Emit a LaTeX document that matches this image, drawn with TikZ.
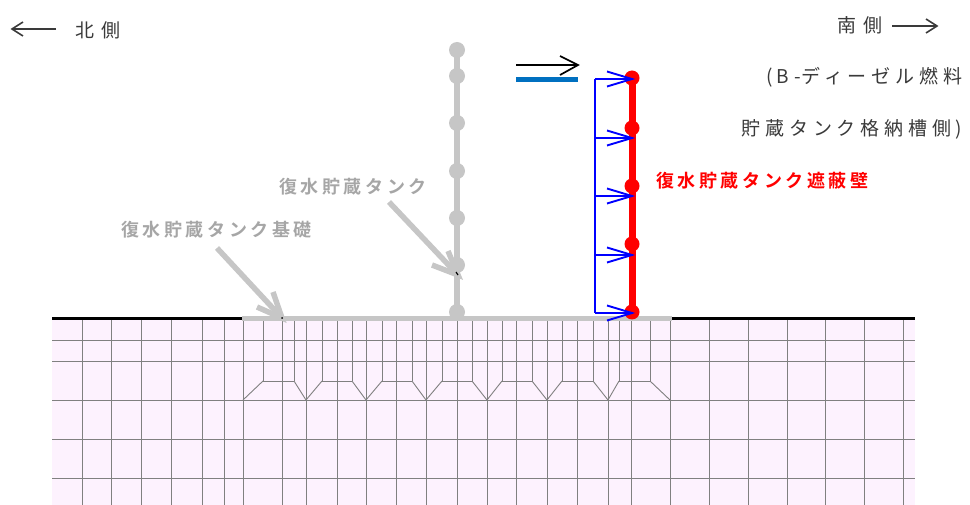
\documentclass[tikz,border=0pt]{standalone}
\usepackage{fontspec}
\newfontfamily\jpa[LetterSpace=26]{Noto Sans CJK JP}
\newfontfamily\jpg[LetterSpace=20,BoldFont={Noto Sans CJK JP Bold}]{Noto Sans CJK JP}
\definecolor{soil}{HTML}{FDF2FE}
\definecolor{mesh}{HTML}{808080}
\definecolor{pale}{HTML}{C6C6C6}
\definecolor{labelgray}{HTML}{A6A6A6}
\definecolor{wind}{HTML}{0070C0}
\definecolor{ink}{HTML}{3A3A3A}
\tikzset{
  meshline/.style={draw=mesh,line width=0.9pt},
  groundline/.style={draw=black,line width=3pt},
  baseline/.style={draw=pale,line width=5pt},
  graywall/.style={draw=pale,line width=6pt},
  redwall/.style={draw=red,line width=7pt},
  grayjoint/.style={circle,fill=pale,inner sep=0pt,minimum size=16pt},
  redjoint/.style={circle,fill=red,inner sep=0pt,minimum size=15pt},
  blueline/.style={draw=blue,line width=1.9pt},
  grayarrow/.style={draw=pale,line width=5.5pt},
  blacktext/.style={inner sep=0pt,text=ink,font=\fontsize{19}{19}\selectfont\jpa},
  graytext/.style={inner sep=0pt,text=labelgray,font=\fontsize{18}{18}\selectfont\jpg\bfseries},
  redtext/.style={inner sep=0pt,text=red,font=\fontsize{18}{18}\selectfont\jpg\bfseries},
  dirarrow/.style={draw=ink,line width=1.6pt},
}
\begin{document}
\begin{tikzpicture}[x=1pt,y=-1pt]
\useasboundingbox (0,0) rectangle (970,505);
\fill[soil] (52,319) rectangle (915,505);
% horizontal mesh
\foreach \y in {340,361,400,439,478}
  \draw[meshline] (52,\y) -- (915,\y);
% full verticals
\foreach \x in {82,111,141,171,202,224,243,282,306,337,366,396,426,457,487,516,547,577,608,631,670,709,748,787,825,864,903}
  \draw[meshline] (\x,319) -- (\x,505);
% upper verticals
\foreach \x in {263,294,322,352,382,412,442,472,502,532,562,593,619,650}
  \draw[meshline] (\x,319) -- (\x,381);
% transition row
\foreach \a/\b in {263/294,322/352,382/412,442/472,502/532,562/593,619/650}
  \draw[meshline] (\a,381) -- (\b,381);
\foreach \a/\b in {243/263,306/322,366/382,426/442,487/502,547/562,608/619}
  \draw[meshline] (\a,400) -- (\b,381);
\foreach \a/\b in {294/306,352/366,412/426,472/487,532/547,593/608,650/670}
  \draw[meshline] (\a,381) -- (\b,400);
% ground surface
\draw[groundline] (52,319) -- (242,319);
\draw[groundline] (672,319) -- (915,319);
\draw[baseline] (242,319) -- (672,319);
% tank wall
\node[grayjoint] (g1) at (457,50) {};
\node[grayjoint] (g2) at (457,76) {};
\node[grayjoint] (g3) at (457,123) {};
\node[grayjoint] (g4) at (457,171) {};
\node[grayjoint] (g5) at (457,218) {};
\node[grayjoint] (g6) at (457,265) {};
\node[grayjoint] (g7) at (457,312) {};
\draw[graywall] (g1.center) -- (g7.center);
% shield wall
\node[redjoint] (r1) at (632,78) {};
\node[redjoint] (r2) at (632,128) {};
\node[redjoint] (r3) at (632,186) {};
\node[redjoint] (r4) at (632,244) {};
\node[redjoint] (r5) at (632,312) {};
\draw[redwall] (r1.center) -- (r5.center);
% wind load
\coordinate (bt) at (595,79);
\coordinate (bb) at (595,313);
\draw[blueline] (bt) -- (bb);
\foreach \y in {79,138,196,255,313}{
  \draw[blueline] (595,\y) -- (632,\y);
  \draw[blueline] (607,\y-7.5) -- (632,\y) -- (607,\y+7.5);
}
% wind symbol
\coordinate (wa) at (516,65);
\coordinate (wb) at (578,65);
\draw[draw=black,line width=1.7pt] (wa) -- (wb);
\draw[draw=black,line width=1.7pt] (560,56) -- (wb) -- (560,75);
\coordinate (wc) at (516,79.5);
\coordinate (wd) at (578,79.5);
\draw[draw=wind,line width=5.5pt] (wc) -- (wd);
% callout arrows
\coordinate (ta) at (389,202);
\coordinate (tb) at (458,275);
\draw[grayarrow] (ta) -- (tb);
\draw[grayarrow,line join=miter] (448,251) -- (tb) -- (432,265);
\draw[black,line width=1.2pt] (456,272) -- (tb);
\coordinate (fa) at (217,248);
\coordinate (fb) at (282,318);
\draw[grayarrow] (fa) -- (fb);
\draw[grayarrow,line join=miter] (273,292) -- (fb) -- (257,307);
\fill[black] (fb) circle (1pt);
% direction arrows
\coordinate (na) at (56,29);
\coordinate (nb) at (12,29);
\draw[dirarrow] (na) -- (nb);
\draw[dirarrow] (23,22) -- (nb) -- (23,36);
\coordinate (sa) at (892,26);
\coordinate (sb) at (937,26);
\draw[dirarrow] (sa) -- (sb);
\draw[dirarrow] (926,19) -- (sb) -- (926,33);
% texts
\node[blacktext,anchor=west] (north) at (75,30) {\addfontfeature{LetterSpace=40}北側};
\node[blacktext,anchor=west] (south) at (837,25) {\addfontfeature{LetterSpace=40}南側};
\node[blacktext,anchor=west] (l2) at (766,77) {(\kern4pt{\addfontfeature{LetterSpace=30}B-}ディーゼル燃料};
\node[blacktext,anchor=west] (l3) at (741,129) {貯蔵タンク格納槽側\kern4pt)};
\node[redtext,anchor=west] (lr) at (656,181) {復水貯蔵タンク遮蔽壁};
\node[graytext,anchor=west] (lt) at (279,187) {復水貯蔵タンク};
\node[graytext,anchor=west] (lf) at (121,230) {復水貯蔵タンク基礎};
\end{tikzpicture}
\end{document}
